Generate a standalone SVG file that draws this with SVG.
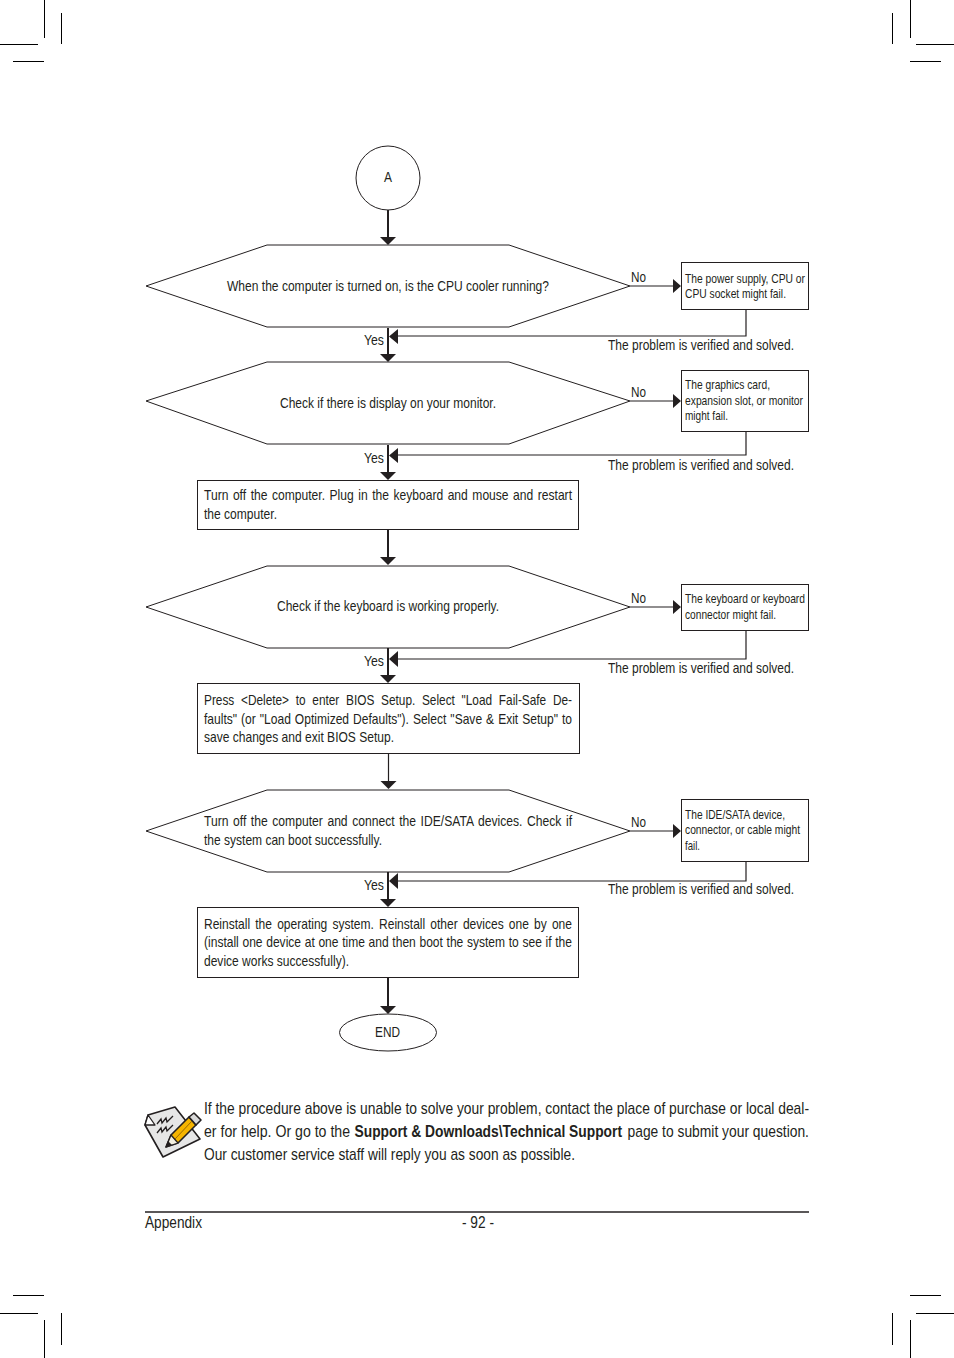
<svg xmlns="http://www.w3.org/2000/svg" width="954" height="1358" viewBox="0 0 954 1358">
<style>
text{font-family:"Liberation Sans",Arial,sans-serif;fill:#231f20;font-size:14.5px}
.s{font-size:12.6px}
.b{font-size:16.6px}
.n{fill:#fff;stroke:#231f20;stroke-width:1}
.l{fill:none;stroke:#231f20;stroke-width:1.2}
.t{fill:none;stroke:#231f20;stroke-width:2}
.h{fill:#231f20;stroke:none}
.c{stroke:#000;stroke-width:1;fill:none}
</style>
<rect width="954" height="1358" fill="#fff"/>
<g id="crop-marks" class="c">
<path d="M44.5 0V38M61.5 13V44M0 44.5H38M13 61.5H44"/>
<path d="M910.5 0V38M892.5 13V44M954 44.5H916M941 61.5H910"/>
<path d="M44.5 1358V1320M61.5 1345V1313M13 1295.5H44M0 1313.5H38"/>
<path d="M910.5 1358V1320M892.5 1345V1313M941 1295.5H910M954 1313.5H916"/>
</g>
<g id="connectors">
<path class="t" d="M388 210V238M388 328V355M388 445V473M388 530V558M388 648V676M388 872V900M388 978V1007"/>
<path class="l" d="M388.500 754V782M630 286H675M746 310V336H396M630 401H675M746 432V455H396M630 607H675M746 631V659H396M630 831H675M746 862V881H396"/>
<path class="h" d="M380 237H396L388 245ZM380 354H396L388 362ZM380 472H396L388 480ZM380 557H396L388 565ZM380 675H396L388 683ZM380.500 781H396.500L388.500 789ZM380 899H396L388 907ZM380 1006H396L388 1014Z"/>
<path class="h" d="M673 279V293L681 286ZM673 394V408L681 401ZM673 600V614L681 607ZM673 824V838L681 831Z"/>
<path class="h" d="M398 329V344L389 336.500ZM398 448V463L389 455.500ZM398 651V667L389 659ZM398 873V889L389 881Z"/>
</g>
<g id="start"><circle class="n" cx="388" cy="178" r="32"/><text x="384" y="182" textLength="8" lengthAdjust="spacingAndGlyphs">A</text></g>
<g id="d1"><path class="n" d="M146 286L267 245H509L630 286L509 327H267Z"/><text x="227" y="291" textLength="322" lengthAdjust="spacingAndGlyphs">When the computer is turned on, is the CPU cooler running?</text></g>
<g id="d2"><path class="n" d="M146 401L267 362H509L630 401L509 444H267Z"/><text x="280" y="408" textLength="216" lengthAdjust="spacingAndGlyphs">Check if there is display on your monitor.</text></g>
<g id="p1"><rect class="n" x="197.500" y="480.500" width="381" height="49"/>
<text x="204" y="500" textLength="368" lengthAdjust="spacingAndGlyphs" word-spacing="1.4">Turn off the computer. Plug in the keyboard and mouse and restart</text>
<text x="204" y="519" textLength="73" lengthAdjust="spacingAndGlyphs">the computer.</text></g>
<g id="d3"><path class="n" d="M146 607L267 566H509L630 607L509 648H267Z"/><text x="277" y="611" textLength="222" lengthAdjust="spacingAndGlyphs">Check if the keyboard is working properly.</text></g>
<g id="p2"><rect class="n" x="197.500" y="683.500" width="382" height="70"/>
<text x="204" y="705" textLength="368" lengthAdjust="spacingAndGlyphs" word-spacing="4.2">Press &lt;Delete&gt; to enter BIOS Setup. Select "Load Fail-Safe De-</text>
<text x="204" y="724" textLength="368" lengthAdjust="spacingAndGlyphs" word-spacing="0.8">faults" (or "Load Optimized Defaults"). Select "Save &amp; Exit Setup" to</text>
<text x="204" y="742" textLength="190" lengthAdjust="spacingAndGlyphs">save changes and exit BIOS Setup.</text></g>
<g id="d4"><path class="n" d="M146 831L267 790H509L630 831L509 872H267Z"/>
<text transform="translate(204 826) scale(.83 1)" textLength="443.400" lengthAdjust="spacingAndGlyphs" word-spacing="1.4">Turn off the computer and connect the IDE/SATA devices. Check if</text>
<text x="204" y="845" textLength="178" lengthAdjust="spacingAndGlyphs">the system can boot successfully.</text></g>
<g id="p3"><rect class="n" x="197.500" y="907.500" width="381" height="70"/>
<text x="204" y="929" textLength="368" lengthAdjust="spacingAndGlyphs" word-spacing="2.2">Reinstall the operating system. Reinstall other devices one by one</text>
<text x="204" y="947" textLength="368" lengthAdjust="spacingAndGlyphs" word-spacing="0.4">(install one device at one time and then boot the system to see if the</text>
<text x="204" y="966" textLength="145" lengthAdjust="spacingAndGlyphs">device works successfully).</text></g>
<g id="end"><ellipse class="n" cx="388" cy="1032.500" rx="48.500" ry="18.500"/><text x="375" y="1037" textLength="25" lengthAdjust="spacingAndGlyphs">END</text></g>
<g id="f1"><rect class="n" x="681.500" y="262.500" width="127" height="47"/>
<text class="s" x="685" y="283" textLength="120" lengthAdjust="spacingAndGlyphs">The power supply, CPU or</text>
<text class="s" x="685" y="298" textLength="101" lengthAdjust="spacingAndGlyphs">CPU socket might fail.</text></g>
<g id="f2"><rect class="n" x="681.500" y="370.500" width="127" height="61"/>
<text class="s" x="685" y="389" textLength="85" lengthAdjust="spacingAndGlyphs">The graphics card,</text>
<text class="s" x="685" y="405" textLength="118" lengthAdjust="spacingAndGlyphs">expansion slot, or monitor</text>
<text class="s" x="685" y="420" textLength="43" lengthAdjust="spacingAndGlyphs">might fail.</text></g>
<g id="f3"><rect class="n" x="681.500" y="584.500" width="127" height="46"/>
<text class="s" x="685" y="603" textLength="120" lengthAdjust="spacingAndGlyphs">The keyboard or keyboard</text>
<text class="s" x="685" y="619" textLength="91" lengthAdjust="spacingAndGlyphs">connector might fail.</text></g>
<g id="f4"><rect class="n" x="681.500" y="799.500" width="127" height="62"/>
<text class="s" x="685" y="819" textLength="100" lengthAdjust="spacingAndGlyphs">The IDE/SATA device,</text>
<text class="s" x="685" y="834" textLength="115" lengthAdjust="spacingAndGlyphs">connector, or cable might</text>
<text class="s" x="685" y="850" textLength="15" lengthAdjust="spacingAndGlyphs">fail.</text></g>
<g id="labels">
<text x="631" y="282" textLength="15" lengthAdjust="spacingAndGlyphs">No</text>
<text x="631" y="397" textLength="15" lengthAdjust="spacingAndGlyphs">No</text>
<text x="631" y="603" textLength="15" lengthAdjust="spacingAndGlyphs">No</text>
<text x="631" y="827" textLength="15" lengthAdjust="spacingAndGlyphs">No</text>
<text x="364" y="345" textLength="20" lengthAdjust="spacingAndGlyphs">Yes</text>
<text x="364" y="463" textLength="20" lengthAdjust="spacingAndGlyphs">Yes</text>
<text x="364" y="666" textLength="20" lengthAdjust="spacingAndGlyphs">Yes</text>
<text x="364" y="890" textLength="20" lengthAdjust="spacingAndGlyphs">Yes</text>
<text x="608" y="350" textLength="186" lengthAdjust="spacingAndGlyphs">The problem is verified and solved.</text>
<text x="608" y="470" textLength="186" lengthAdjust="spacingAndGlyphs">The problem is verified and solved.</text>
<text x="608" y="673" textLength="186" lengthAdjust="spacingAndGlyphs">The problem is verified and solved.</text>
<text x="608" y="894" textLength="186" lengthAdjust="spacingAndGlyphs">The problem is verified and solved.</text>
</g>
<g id="note-icon">
<path d="M148 1115L175 1107L200 1139L163 1157L145 1125Z" fill="#e6e6e6" stroke="#231f20" stroke-width="1.600" stroke-linejoin="round"/>
<path d="M148 1115L155 1125L145 1125Z" fill="#fff" stroke="#231f20" stroke-width="1.300" stroke-linejoin="round"/>
<path d="M157 1124l4-5 1 4 4-5 1 4 6-6M157 1133l4-5 1 4 4-5 1 4 6-6" fill="none" stroke="#231f20" stroke-width="1.300"/>
<path d="M166 1147L171 1135L189 1117L196 1125L178 1143Z" fill="#f5b400" stroke="#231f20" stroke-width="1.600" stroke-linejoin="round"/>
<path d="M166 1147L171 1135L178 1143Z" fill="#f3efe0" stroke="#231f20" stroke-width="1.300" stroke-linejoin="round"/>
<path d="M166 1147L168 1141L172 1145Z" fill="#231f20"/>
<path d="M189 1117L194 1113L201 1120L196 1125Z" fill="#d9d9d9" stroke="#231f20" stroke-width="1.600" stroke-linejoin="round"/>
<path d="M175 1139L192 1121" fill="none" stroke="#9a6a00" stroke-width="1"/>
</g>
<g id="note">
<text class="b" x="204" y="1114" textLength="605" lengthAdjust="spacingAndGlyphs">If the procedure above is unable to solve your problem, contact the place of purchase or local deal-</text>
<text class="b" transform="translate(204 1137) scale(.85 1)" textLength="171.800" lengthAdjust="spacingAndGlyphs">er for help. Or go to the</text>
<text class="b" transform="translate(354.500 1137) scale(.85 1)" textLength="314.700" lengthAdjust="spacingAndGlyphs" font-weight="bold">Support &amp; Downloads\Technical Support</text>
<text class="b" transform="translate(627.500 1137) scale(.85 1)" textLength="213.500" lengthAdjust="spacingAndGlyphs">page to submit your question.</text>
<text class="b" x="204" y="1160" textLength="371" lengthAdjust="spacingAndGlyphs">Our customer service staff will reply you as soon as possible.</text>
</g>
<g id="footer">
<path d="M145 1212H809" stroke="#231f20" stroke-width="1.600" fill="none"/>
<text class="b" x="145" y="1228" textLength="57" lengthAdjust="spacingAndGlyphs">Appendix</text>
<text class="b" x="462" y="1228" textLength="32" lengthAdjust="spacingAndGlyphs">- 92 -</text>
</g>
</svg>
